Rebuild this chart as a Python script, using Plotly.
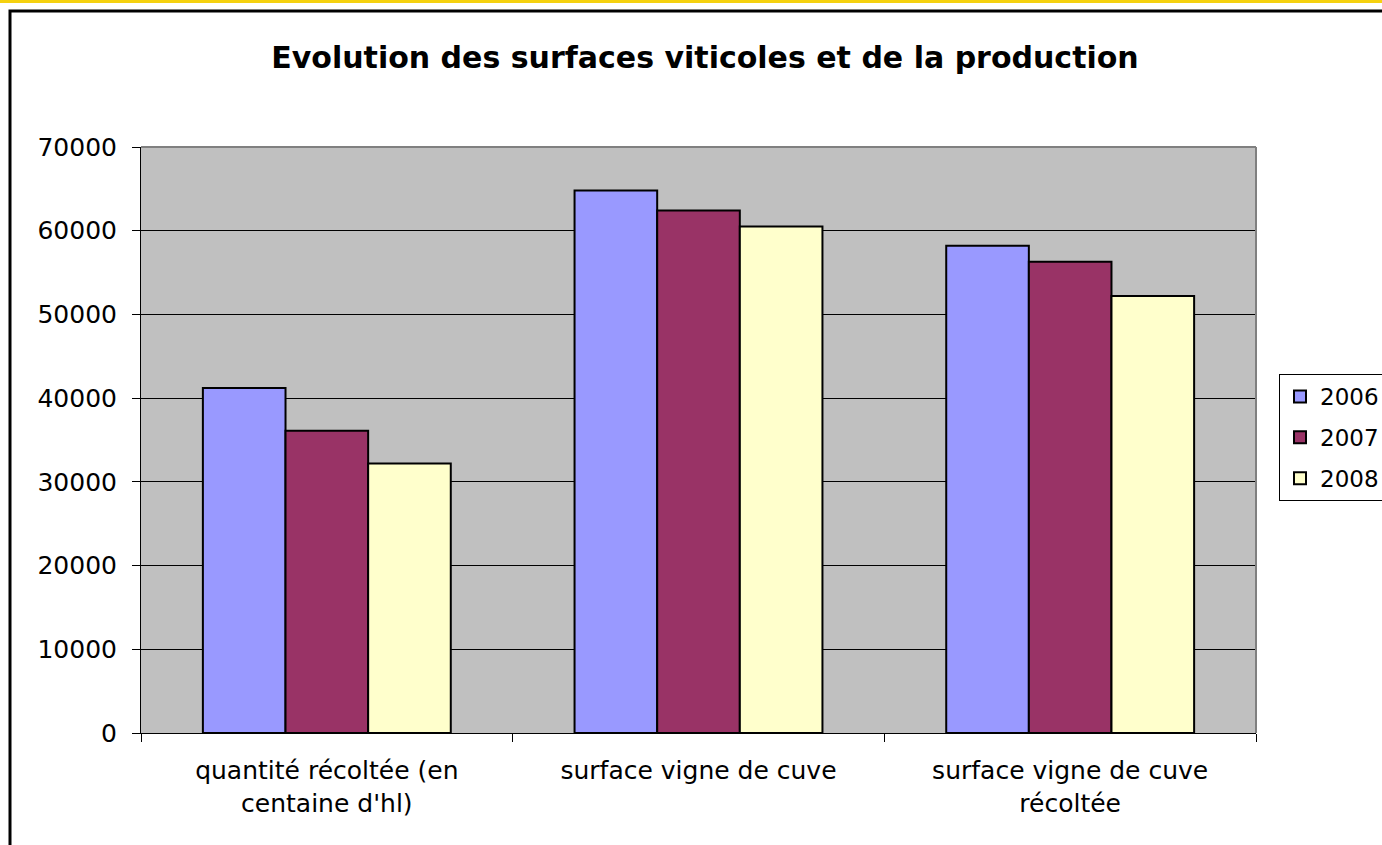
import plotly.graph_objects as go

categories = ["quantité récoltée (en<br>centaine d'hl)", "surface vigne de cuve", "surface vigne de cuve<br>récoltée"]
years = ["2006", "2007", "2008"]
values_2006 = [41200, 64800, 58200]
values_2007 = [36100, 62400, 56300]
values_2008 = [32200, 60500, 52200]
colors = ["#9999FF", "#993366", "#FFFFCC"]
y_ticks = [0, 10000, 20000, 30000, 40000, 50000, 60000, 70000]

W, H = 1382, 845
L, R, T, B = 141, 126, 147, 112
pw, ph = W - L - R, H - T - B

def px_x(p):
    return (p - L) / pw

def px_y(p):
    return (H - B - p) / ph

fig = go.Figure()
for name, vals, col in zip(years, [values_2006, values_2007, values_2008], colors):
    fig.add_trace(go.Bar(
        x=categories, y=vals, name=name, legendgroup=name,
        marker=dict(color=col, line=dict(color="#000000", width=2)),
    ))

font_family = "DejaVu Sans, Liberation Sans, Arial, sans-serif"

fig.update_layout(
    width=W, height=H,
    margin=dict(l=L, r=R, t=T, b=B, autoexpand=False),
    paper_bgcolor="#FFFFFF",
    plot_bgcolor="#C0C0C0",
    barmode="group",
    bargap=0.333,
    bargroupgap=0,
    font=dict(family=font_family, color="#000000", size=25),
    title=dict(
        text="<b>Evolution des surfaces viticoles et de la production</b>",
        x=705 / W, xanchor="center",
        y=1 - 57 / H, yanchor="middle",
        font=dict(family=font_family, size=30, color="#000000"),
    ),
    xaxis=dict(
        type="category",
        showline=True, linecolor="#000000", linewidth=1,
        ticks="outside", tickson="boundaries", ticklen=8, tickcolor="#000000",
        tickfont=dict(size=25),
        ticklabelstandoff=15,
        showgrid=False,
        fixedrange=True,
    ),
    yaxis=dict(
        range=[0, 70000],
        tickvals=y_ticks,
        ticktext=[str(v) for v in y_ticks],
        showline=True, linecolor="#000000", linewidth=1,
        ticks="outside", ticklen=8, tickcolor="#000000",
        ticklabelstandoff=10,
        showgrid=True, gridcolor="#000000", gridwidth=1,
        zeroline=False,
        tickfont=dict(size=25),
        fixedrange=True,
    ),
    legend=dict(
        xref="container", yref="container",
        x=1279 / W, xanchor="left",
        y=1 - 374 / H, yanchor="top",
        bgcolor="#FFFFFF",
        bordercolor="#000000", borderwidth=1,
        font=dict(size=23),
        itemwidth=30,
        tracegroupgap=8,
    ),
    showlegend=True,
    shapes=[
        # plot area border (top, right)
        dict(type="line", xref="paper", yref="paper", x0=0, x1=1, y0=1, y1=1,
             line=dict(color="#808080", width=2)),
        dict(type="line", xref="paper", yref="paper", x0=1, x1=1, y0=0, y1=1,
             line=dict(color="#808080", width=2)),
        # chart area border
        dict(type="rect", xref="paper", yref="paper",
             x0=px_x(10), x1=px_x(1450), y0=px_y(950), y1=px_y(11),
             line=dict(color="#000000", width=3), fillcolor="rgba(0,0,0,0)", layer="below"),
        # top yellow line
        dict(type="rect", xref="paper", yref="paper",
             x0=px_x(-10), x1=px_x(1400), y0=px_y(3), y1=px_y(-5),
             line=dict(width=0), fillcolor="#F5D10F"),
    ],
)

fig.write_html(
    "out.html",
    config={"displayModeBar": False},
    post_script="document.body.style.margin='0';document.body.style.overflow='hidden';",
)
